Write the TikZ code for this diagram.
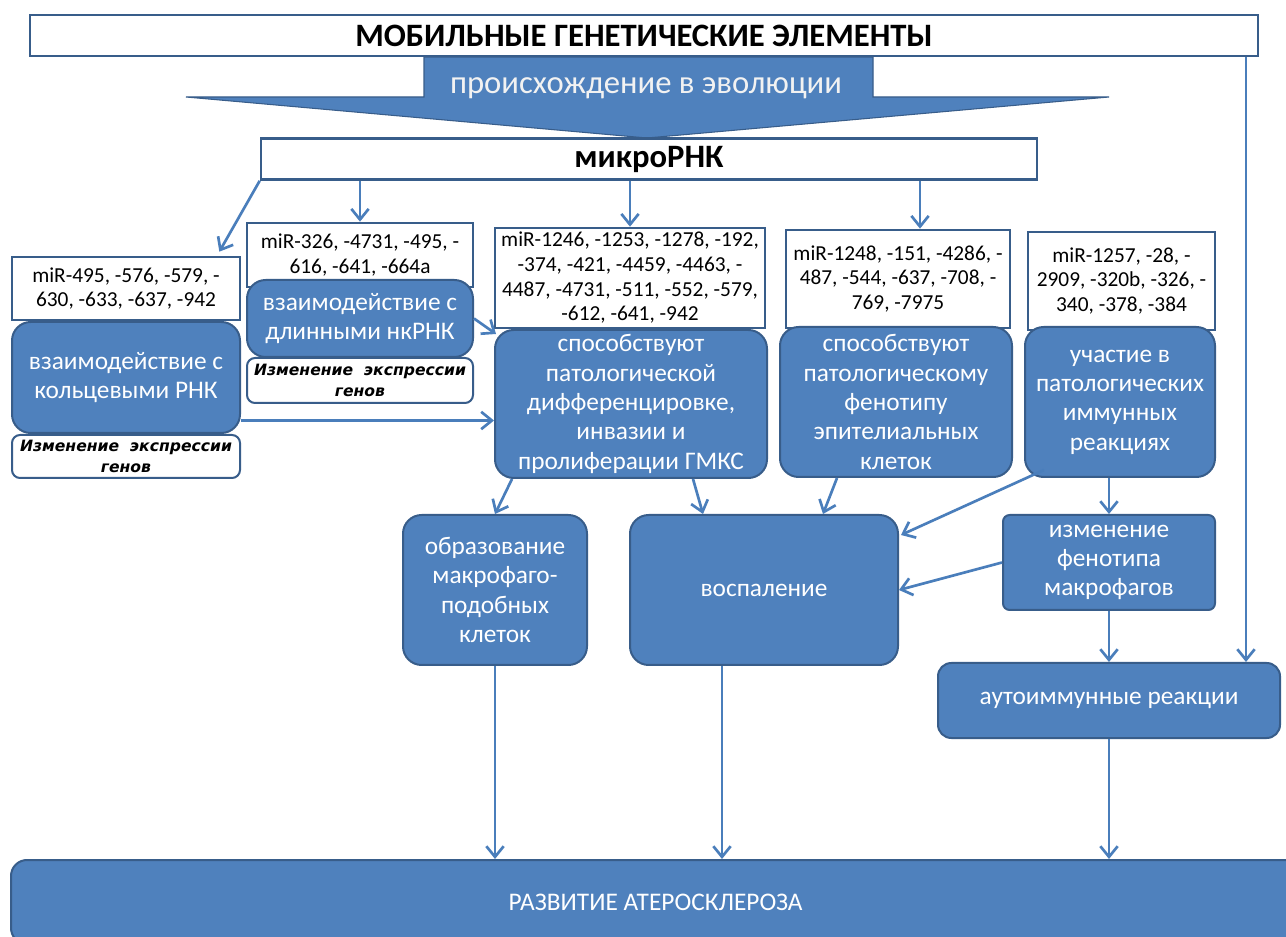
\documentclass[tikz,border=0pt]{standalone}
\usepackage{fontspec}
\setmainfont{Carlito}
\newfontfamily\genefont{DejaVu Sans}
\usetikzlibrary{arrows.meta,calc}
\definecolor{boxblue}{HTML}{4F81BD}
\definecolor{edgeblue}{HTML}{385D8A}
\definecolor{lineblue}{HTML}{4A7EBB}

\begin{document}
\begin{tikzpicture}[x=0.75pt,y=-0.75pt,
    bluebox/.style={draw=edgeblue, line width=1.5pt, fill=boxblue, rounded corners=14pt,
        text=white, align=center, inner sep=0pt, font=\fontsize{19}{22}\selectfont},
    mirbox/.style={draw=edgeblue, line width=2pt, fill=white, align=center, inner sep=0pt,
        font=\fontsize{16}{18.5}\selectfont},
    genebox/.style={draw=edgeblue, line width=1.5pt, fill=white, rounded corners=6pt,
        align=center, inner sep=0pt, font=\genefont\bfseries\itshape\fontsize{11.7}{15.5}\selectfont},
    arr/.style={draw=lineblue, line width=2pt, -{Straight Barb[length=8pt,width=13pt]}}]
    % Frame
    \useasboundingbox (0,0) rectangle (1286,937);
    \clip (0,0) rectangle (1286,937);
    \fill[white] (0,0) rectangle (1286,937);

    % Top
    \node[mirbox, minimum width=921pt, minimum height=30.75pt,
        font=\bfseries\fontsize{24.5}{27}\selectfont] (top) at (644,35.5)
        {МОБИЛЬНЫЕ ГЕНЕТИЧЕСКИЕ ЭЛЕМЕНТЫ};
    \filldraw[fill=boxblue, draw=edgeblue, line width=0.8pt]
        (424,57) -- (873,57) -- (873,97) -- (1109,97) -- (647,138)
        -- (186,97) -- (424,97) -- cycle;
    \node[text=white!95!black, font=\fontsize{24.5}{27}\selectfont] (evol) at (646,88)
        {происхождение в эволюции};
    \node[mirbox, minimum width=582pt, minimum height=30.75pt,
        font=\bfseries\fontsize{24.5}{27}\selectfont] (micro) at (649,159) {микроРНК};

    % miR lists
    \node[mirbox, minimum width=171pt, minimum height=47.25pt] (mir1) at (126,288.5)
        {miR-495, -576, -579, -\\630, -633, -637, -942};
    \node[mirbox, minimum width=169.5pt, minimum height=48pt] (mir2) at (360,255)
        {miR-326, -4731, -495, -\\616, -641, -664a};
    \node[mirbox, minimum width=202.5pt, minimum height=75pt] (mir3) at (630,278)
        {miR-1246, -1253, -1278, -192,\\-374, -421, -4459, -4463, -\\4487, -4731, -511, -552, -579,\\-612, -641, -942};
    \node[mirbox, minimum width=168pt, minimum height=73.5pt] (mir4) at (898,279)
        {miR-1248, -151, -4286, -\\487, -544, -637, -708, -\\769, -7975};
    \node[mirbox, minimum width=140.25pt, minimum height=73.5pt] (mir5) at (1121.5,281)
        {miR-1257, -28, -\\2909, -320b, -326, -\\340, -378, -384};

    % Effects
    \node[bluebox, minimum width=171pt, minimum height=83.25pt] (blue1) at (126,377.5)
        {взаимодействие с\\кольцевыми РНК};
    \node[genebox, minimum width=171pt, minimum height=32.25pt] (gene1) at (126,456.5)
        {Изменение\ \ экспрессии\\генов};
    \node[bluebox, minimum width=169.5pt, minimum height=57.75pt] (blue2) at (360,318.5)
        {взаимодействие с\\длинными нкРНК};
    \node[genebox, minimum width=169.5pt, minimum height=33.75pt] (gene2) at (360,380.5)
        {Изменение\ \ экспрессии\\генов};
    \node[bluebox, minimum width=204pt, minimum height=111pt] (blue3) at (631,404)
        {способствуют\\патологической\\дифференцировке,\\инвазии и\\пролиферации ГМКС};
    \node[bluebox, minimum width=174pt, minimum height=112.5pt] (blue4) at (896,402)
        {способствуют\\патологическому\\фенотипу\\эпителиальных\\клеток};
    \node[bluebox, minimum width=142.5pt, minimum height=112.5pt] (blue5) at (1120,402)
        {участие в\\патологических\\иммунных\\реакциях};

    % Outcomes
    \node[bluebox, minimum width=138pt, minimum height=112.5pt] (macro) at (495,590)
        {образование\\макрофаго-\\подобных\\клеток};
    \node[bluebox, minimum width=201pt, minimum height=112.5pt] (inflam) at (764,590)
        {воспаление};
    \node[bluebox, rounded corners=5pt, minimum width=159pt, minimum height=71.25pt]
        (pheno) at (1109,562.5) {изменение\\фенотипа\\макрофагов};
    \node[bluebox, rounded corners=10pt, minimum width=256.5pt, minimum height=56.25pt]
        (autoimm) at (1109,700.5) {аутоиммунные реакции};
    \node[bluebox, rounded corners=12pt, minimum width=966.75pt, minimum height=63pt]
        (athero) at (655.5,902) {РАЗВИТИЕ АТЕРОСКЛЕРОЗА};

    % Arrows from микроРНК
    \draw[arr] (micro.south west) -- ($(mir1.north east)+(-22,-4)$);
    \draw[arr] (micro.south -| mir2.north) -- (mir2.north);
    \draw[arr] (micro.south -| mir3.north) -- (mir3.north);
    \coordinate (m4in) at ($(mir4.north)+(22,0)$);
    \draw[arr] (micro.south -| m4in) -- (m4in);
    \coordinate (rline) at ($(autoimm.north east)+(-35,0)$);
    \draw[arr] (top.south -| rline) -- (rline);

    % Arrows between effects
    \draw[arr] (blue2.east) -- ($(blue3.north west)+(2,5)$);
    \coordinate (b1out) at ($(blue1.east)+(0,43)$);
    \draw[arr] (b1out) -- (b1out -| blue3.west);
    \draw[arr] ($(blue3.south)+(-119,0)$) -- (macro.north);
    \draw[arr] ($(blue3.south)+(62,0)$) -- ($(inflam.north)+(-61,0)$);
    \draw[arr] ($(blue4.south)+(-59,0)$) -- ($(inflam.north)+(59,0)$);
    \draw[arr] ($(blue5.south west)+(20,-8)$) -- ($(inflam.east)+(2,-55)$);
    \draw[arr] (blue5.south -| pheno.north) -- (pheno.north);
    \draw[arr] (pheno.west) -- (inflam.east);
    \draw[arr] (pheno.south) -- (autoimm.north);

    % Arrows to the bottom
    \foreach \src/\dx in {macro/0, inflam/-42, autoimm/0} {
        \coordinate (s) at ($(\src.south)+(\dx,0)$);
        \draw[arr] (s) -- (s |- athero.north);
    }
\end{tikzpicture}
\end{document}
